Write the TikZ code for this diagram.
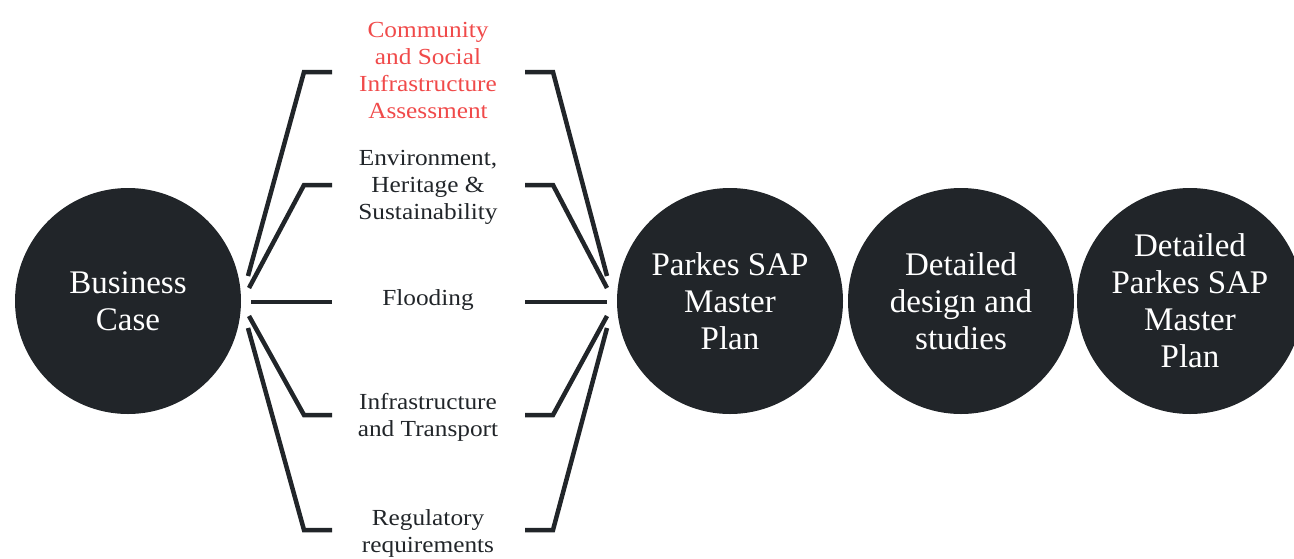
\documentclass[tikz,border=0pt]{standalone}
\usepackage{fontspec}
\setmainfont{Liberation Serif}
\newfontfamily\topicfont{Liberation Serif}[FakeStretch=1.1]
\definecolor{ink}{HTML}{212529}
\definecolor{accent}{HTML}{F04A4A}

\begin{document}
\begin{tikzpicture}[x=1pt,y=-1pt,
  stage/.style={circle,fill=ink,minimum size=226pt,inner sep=0pt,text=white,
    align=center,font=\fontsize{33}{37}\selectfont},
  topic/.style={align=center,text=ink,font=\topicfont\fontsize{23}{27}\selectfont},
  bracket/.style={draw=ink,line width=4.5pt}]
\useasboundingbox (0,0) rectangle (1294,558);
\clip (0,0) rectangle (1294,558);

% stages
\node[stage] (bc)  at (128,301) {Business\\Case};
\node[stage] (mp)  at (730,301) {Parkes SAP\\Master\\Plan};
\node[stage] (dd)  at (961,301) {Detailed\\design and\\studies};
\node[stage] (dmp) at (1190,301) {Detailed\\Parkes SAP\\Master\\Plan};

% study topics
\node[topic,text=accent] (t1) at (428,70)  {Community\\and Social\\Infrastructure\\Assessment};
\node[topic] (t2) at (428,187) {Environment,\\Heritage \&\\Sustainability};
\node[topic] (t3) at (428,300) {Flooding};
\node[topic] (t4) at (428,417) {Infrastructure\\and Transport};
\node[topic] (t5) at (428,533) {Regulatory\\requirements};

% bracket ends beside the topics
\coordinate (l1) at (332,72);  \coordinate (r1) at (525,72);
\coordinate (l2) at (332,185); \coordinate (r2) at (525,185);
\coordinate (l3) at (332,302); \coordinate (r3) at (525,302);
\coordinate (l4) at (332,415); \coordinate (r4) at (525,415);
\coordinate (l5) at (332,530); \coordinate (r5) at (525,530);

% bracket ends beside the stages
\coordinate (bc1) at (248,276); \coordinate (mp1) at (607,276);
\coordinate (bc2) at (249,288); \coordinate (mp2) at (607,288);
\coordinate (bc3) at (251,302); \coordinate (mp3) at (607,302);
\coordinate (bc4) at (249,316); \coordinate (mp4) at (607,316);
\coordinate (bc5) at (248,328); \coordinate (mp5) at (607,328);

% left fan: business case to topics
\draw[bracket] (l1) -- (304,72)  -- (bc1);
\draw[bracket] (l2) -- (304,185) -- (bc2);
\draw[bracket] (l3) -- (bc3);
\draw[bracket] (l4) -- (304,415) -- (bc4);
\draw[bracket] (l5) -- (304,530) -- (bc5);

% right fan: topics to master plan
\draw[bracket] (r1) -- (553,72)  -- (mp1);
\draw[bracket] (r2) -- (553,185) -- (mp2);
\draw[bracket] (r3) -- (mp3);
\draw[bracket] (r4) -- (553,415) -- (mp4);
\draw[bracket] (r5) -- (553,530) -- (mp5);
\end{tikzpicture}
\end{document}
